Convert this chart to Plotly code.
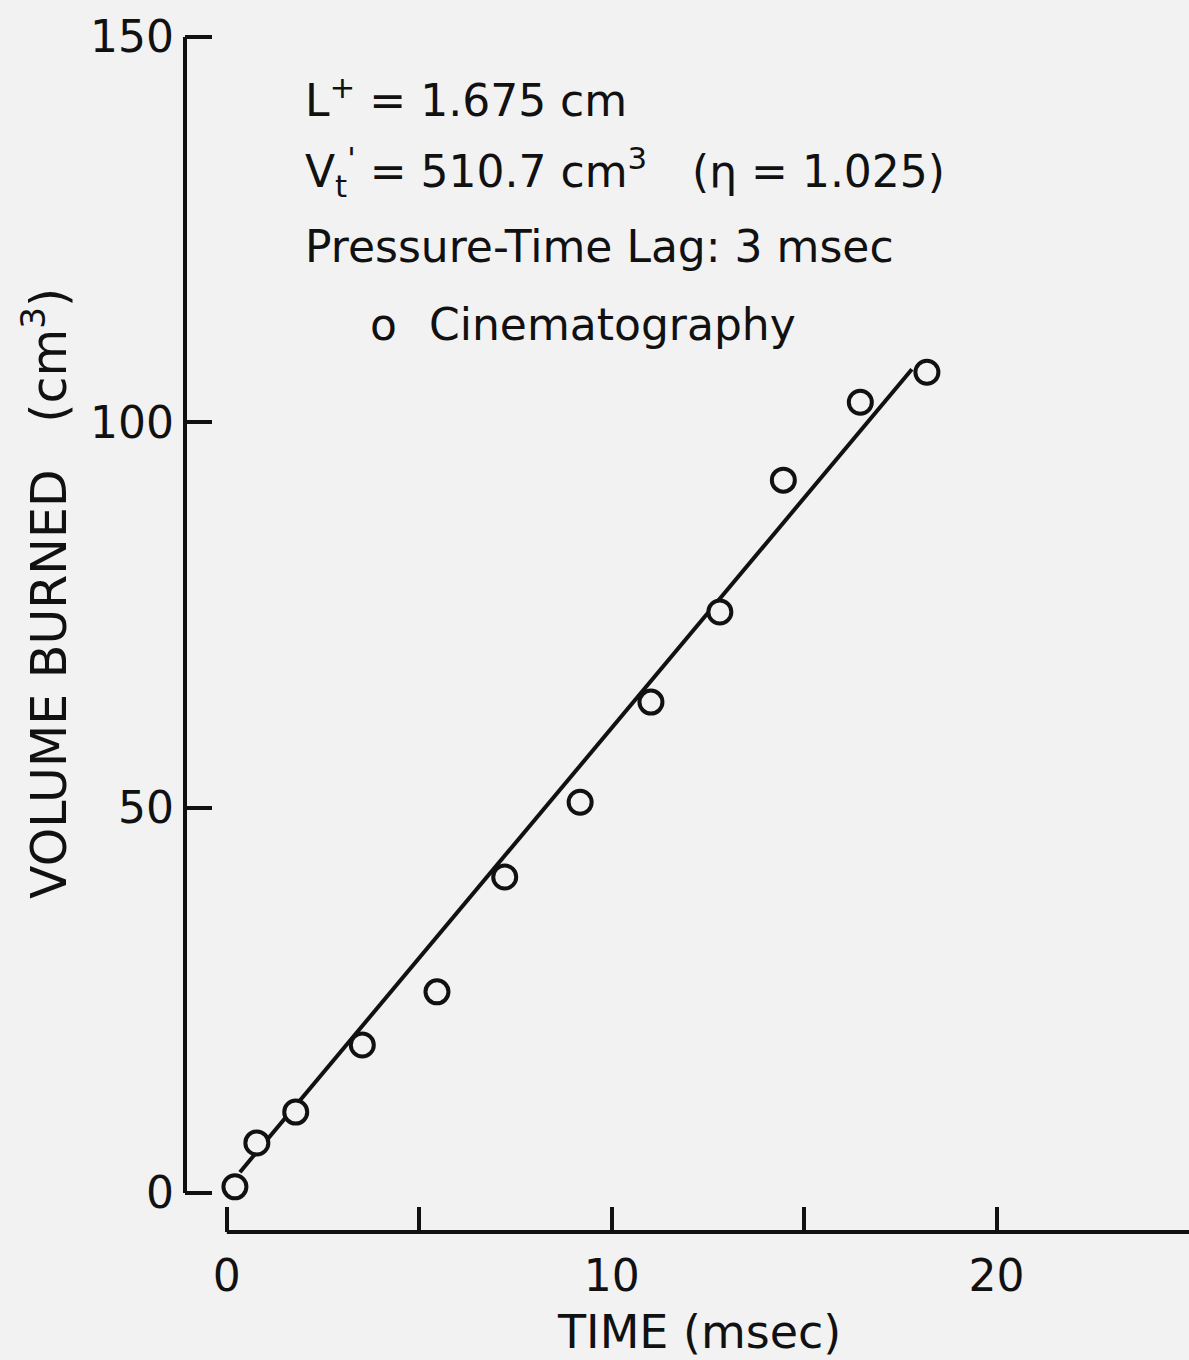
import plotly.graph_objects as go

# ---- data ----
time_ms = [0.21, 0.78, 1.79, 3.52, 5.46, 7.22, 9.18, 11.02, 12.81, 14.46, 16.46, 18.19]
volume_cm3 = [0.8, 6.5, 10.5, 19.2, 26.1, 41.0, 50.7, 63.7, 75.4, 92.5, 102.6, 106.5]
fit_time = [0.34, 17.80]
fit_volume = [2.7, 106.9]
x_tickvals = [0, 10, 20]
x_ticktext = ["0", "10", "20"]
y_tickvals = [0, 50, 100, 150]
y_ticktext = ["0", "50", "100", "150"]

# ---- layout geometry ----
W, H = 1189, 1360
ML, MR, MT, MB = 185, 0, 21, 128
XR = [-1.087, 25.0]
YR = [-5.06, 152.08]
BG = "#f2f2f2"
INK = "#111111"
FONT = "DejaVu Sans"

PW = W - ML - MR
PH = H - MT - MB


def xfrac(v):
    return (v - XR[0]) / (XR[1] - XR[0])


def yfrac(v):
    return (v - YR[0]) / (YR[1] - YR[0])


def px_x(px):  # page pixel -> paper x
    return (px - ML) / PW


def px_y(py):  # page pixel -> paper y
    return (H - MB - py) / PH


fig = go.Figure()

fig.add_trace(go.Scatter(
    x=fit_time, y=fit_volume, mode="lines",
    line=dict(color=INK, width=4), showlegend=False, hoverinfo="skip",
))
fig.add_trace(go.Scatter(
    x=time_ms, y=volume_cm3, mode="markers", name="Cinematography",
    marker=dict(symbol="circle", size=23, color=BG,
                line=dict(color=INK, width=4)),
    showlegend=False, cliponaxis=False,
))

shapes = [
    # y axis line (from 0 to 150 only)
    dict(type="line", xref="x domain", yref="y domain",
         x0=0, x1=0, y0=yfrac(0), y1=yfrac(150),
         line=dict(color=INK, width=4)),
    # x axis line (from 0 to the right)
    dict(type="line", xref="x domain", yref="y domain",
         x0=xfrac(0), x1=1, y0=0, y1=0,
         line=dict(color=INK, width=4)),
]

ann_font = dict(family=FONT, size=44, color=INK)
annotations = [
    dict(text="L<sup>+</sup> = 1.675 cm", x=px_x(303), y=px_y(97)),
    dict(text="V<sub>t</sub><sup>'</sup> = 510.7 cm<sup>3</sup>", x=px_x(303), y=px_y(172)),
    dict(text="(η = 1.025)", x=px_x(690), y=px_y(172)),
    dict(text="Pressure-Time Lag: 3 msec", x=px_x(303), y=px_y(247)),
    dict(text="o", x=px_x(383), y=px_y(324), xanchor="center"),
    dict(text="Cinematography", x=px_x(427), y=px_y(324)),
]
for a in annotations:
    a.setdefault("xanchor", "left")
    a.update(xref="paper", yref="paper", yanchor="middle", showarrow=False,
             font=ann_font)

annotations.append(dict(
    text="TIME (msec)", xref="paper", yref="paper",
    x=px_x(699), y=px_y(1332), xanchor="center", yanchor="middle",
    showarrow=False, font=dict(family=FONT, size=46, color=INK)))
annotations.append(dict(
    text="VOLUME BURNED\u00a0\u00a0\u00a0(cm<sup>3</sup>)", xref="paper", yref="paper",
    x=px_x(45), y=px_y(594), xanchor="center", yanchor="middle", textangle=-90,
    showarrow=False, font=dict(family=FONT, size=49, color=INK)))

fig.update_layout(
    width=W, height=H,
    margin=dict(l=ML, r=MR, t=MT, b=MB, pad=0),
    paper_bgcolor=BG, plot_bgcolor=BG,
    shapes=shapes, annotations=annotations,
    font=dict(family=FONT, color=INK),
    xaxis=dict(range=XR, showgrid=False, zeroline=False, showline=False,
               ticks="inside", ticklen=25, tickwidth=4, tickcolor=INK,
               tickvals=x_tickvals, ticktext=x_ticktext,
               ticklabelstandoff=14,
               minor=dict(dtick=5, tick0=0, ticks="inside", ticklen=25,
                          tickwidth=4, tickcolor=INK, showgrid=False),
               tickfont=dict(family=FONT, size=44, color=INK)),
    yaxis=dict(range=YR, showgrid=False, zeroline=False, showline=False,
               ticks="inside", ticklen=27, tickwidth=4, tickcolor=INK,
               tickvals=y_tickvals, ticktext=y_ticktext,
               ticklabelstandoff=10,
               tickfont=dict(family=FONT, size=44, color=INK)),
)

fig.write_html(
    "out.html",
    config={"displayModeBar": False},
    post_script="document.body.style.margin='0';document.body.style.background='%s';" % BG,
)
